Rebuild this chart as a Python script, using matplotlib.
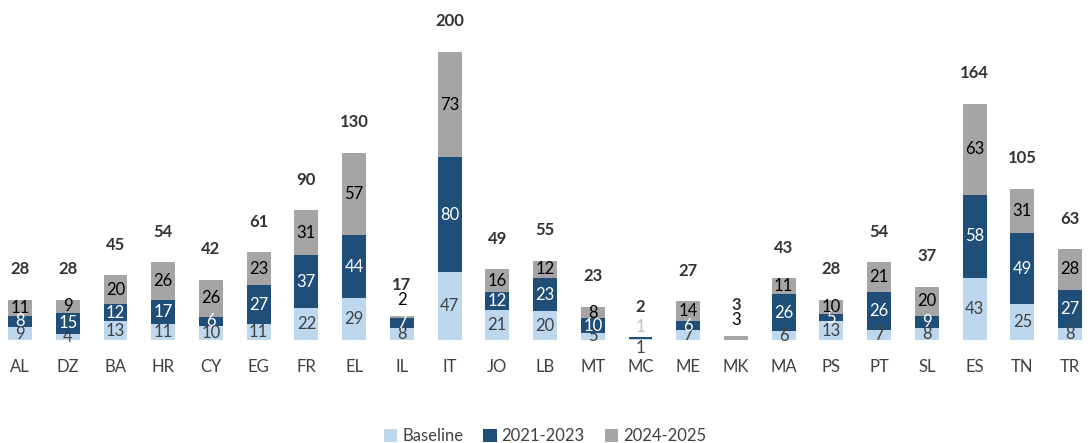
import numpy as np
import matplotlib
matplotlib.use("Agg")
from matplotlib import pyplot as plt

plt.rcParams['font.family'] = ['Lato', 'DejaVu Sans']

# data
countries = ['AL', 'DZ', 'BA', 'HR', 'CY', 'EG', 'FR', 'EL', 'IL', 'IT', 'JO', 'LB',
             'MT', 'MC', 'ME', 'MK', 'MA', 'PS', 'PT', 'SL', 'ES', 'TN', 'TR']
baseline = [9, 4, 13, 11, 10, 11, 22, 29, 8, 47, 21, 20, 5, 1, 7, 0, 6, 13, 7, 8, 43, 25, 8]
y2021_2023 = [8, 15, 12, 17, 6, 27, 37, 44, 7, 80, 12, 23, 10, 1, 6, 0, 26, 5, 26, 9, 58, 49, 27]
y2024_2025 = [11, 9, 20, 26, 26, 23, 31, 57, 2, 73, 16, 12, 8, 0, 14, 3, 11, 10, 21, 20, 63, 31, 28]
series_names = ['Baseline', '2021-2023', '2024-2025']

colors = ['#BDD7EE', '#1F4E79', '#A5A5A5']
text_colors = ['#404040', 'white', 'black']

fig = plt.figure(figsize=(10.88, 4.43), dpi=100)
ax = fig.add_axes([0, 103 / 443, 1, 340 / 443])

x = np.arange(len(countries))
series = [np.array(baseline), np.array(y2021_2023), np.array(y2024_2025)]
bottom = np.zeros(len(countries))
bars = []
for vals, name, col in zip(series, series_names, colors):
    b = ax.bar(x, vals, 0.5, bottom=bottom, color=col, label=name, zorder=2)
    bars.append(b)
    bottom = bottom + vals
totals = bottom

# segment labels
for k, vals in enumerate(series):
    bot = sum(series[:k]) if k else np.zeros(len(countries))
    for i, v in enumerate(vals):
        if v == 0:
            continue
        name = countries[i]
        if name == 'MC':
            # tiny bar: one label below, one above
            if k == 0:
                ax.annotate(str(v), (i, 0), xytext=(0, -6), textcoords='offset points',
                            ha='center', va='center', fontsize=12, color='#404040')
            else:
                ax.annotate(str(v), (i, totals[i]), xytext=(0, 7), textcoords='offset points',
                            ha='center', va='center', fontsize=12, color='#BFBFBF')
            continue
        if k == 2 and v <= 3:
            ax.annotate(str(v), (i, totals[i]), xytext=(0, 11), textcoords='offset points',
                        ha='center', va='center', fontsize=12, color='black')
            continue
        ax.text(i, bot[i] + v / 2, str(v), ha='center', va='center',
                fontsize=12, color=text_colors[k], zorder=3)

# totals
for i, t in enumerate(totals):
    ax.annotate(str(int(t)), (i, t), xytext=(0, 22), textcoords='offset points',
                ha='center', va='center', fontsize=12, fontweight='bold', color='#333333')

ax.set_xlim(-20 / 47.73, (1088 - 20) / 47.73)
ax.set_ylim(0, 340 / 1.44)
ax.set_xticks(x)
ax.set_xticklabels(countries, fontsize=12, color='#404040')
ax.tick_params(axis='x', length=0, pad=14)
ax.set_yticks([])
for s in ax.spines.values():
    s.set_visible(False)

fig.legend(loc='center', bbox_to_anchor=(545 / 1088, 7 / 443), ncol=3, frameon=False,
           fontsize=12, handlelength=0.8, handleheight=0.8, handletextpad=0.3,
           columnspacing=1.2, labelcolor='#404040')

fig.savefig('out.png', dpi=100)
